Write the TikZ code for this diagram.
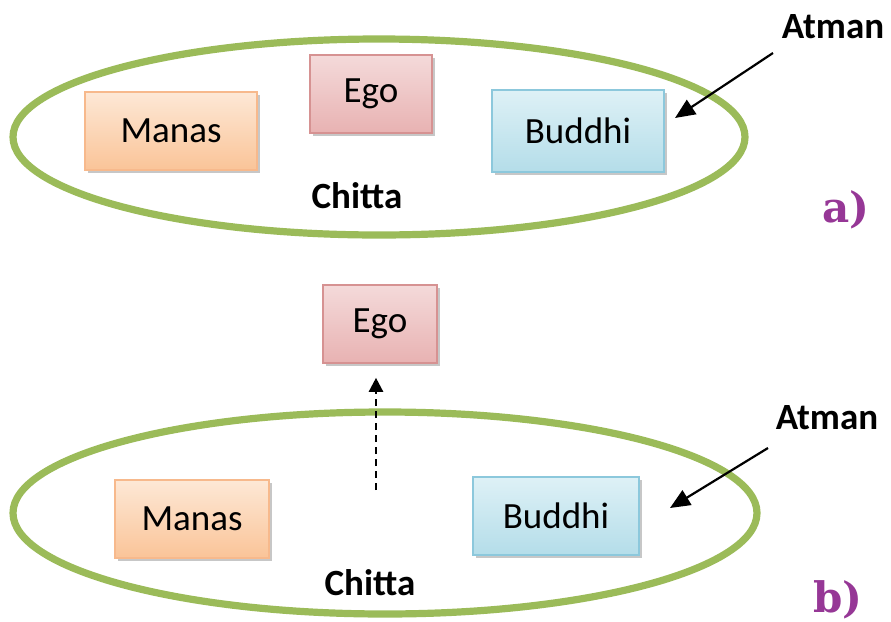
\documentclass[tikz,border=0pt]{standalone}
\usepackage{fontspec}
\setmainfont{Carlito}
\newfontfamily\partfont{DejaVu Serif}
\usetikzlibrary{arrows.meta,shadows}

\definecolor{chittagreen}{RGB}{155,187,89}
\definecolor{manastop}{RGB}{253,232,214}
\definecolor{manasbot}{RGB}{250,196,152}
\definecolor{manasline}{RGB}{247,185,140}
\definecolor{egotop}{RGB}{244,218,218}
\definecolor{egobot}{RGB}{232,178,178}
\definecolor{egoline}{RGB}{214,146,146}
\definecolor{buddhitop}{RGB}{222,241,246}
\definecolor{buddhibot}{RGB}{180,221,233}
\definecolor{buddhiline}{RGB}{140,200,220}
\definecolor{partpurple}{RGB}{150,55,150}
\newcommand*{\boxfont}{\fontsize{18.5}{22}\selectfont}

\begin{document}
\begin{tikzpicture}[x=0.5pt, y=-0.5pt,
    box/.style={draw, line width=0.8pt, minimum height=39pt, inner sep=0pt, font=\boxfont,
        drop shadow={shadow xshift=1.5pt, shadow yshift=-1.5pt, fill=black!40, opacity=0.55}},
    manasbox/.style={box, draw=manasline, top color=manastop, bottom color=manasbot},
    egobox/.style={box, draw=egoline, top color=egotop, bottom color=egobot},
    buddhibox/.style={box, draw=buddhiline, top color=buddhitop, bottom color=buddhibot},
    chitta/.style={draw=chittagreen, line width=3.6pt},
    tag/.style={font=\boxfont\bfseries},
    part/.style={font=\partfont\fontsize{21}{24}\selectfont\bfseries, text=partpurple},
    pointer/.style={line width=1.1pt, -{Triangle[length=10pt, width=8.5pt]}}
]
    \useasboundingbox (0,0) rectangle (891,622);
    % a) ego inside chitta
    \draw[chitta] (379,137) ellipse [x radius=366, y radius=98];
    \node[manasbox, minimum width=86pt] (manasA) at (171,131) {Manas};
    \node[egobox, minimum width=61pt] (egoA) at (371,94) {Ego};
    \node[buddhibox, minimum width=86pt, minimum height=41pt] (buddhiA) at (578,131) {Buddhi};
    \node[tag] (chittaA) at (357,196) {Chitta};
    \node[tag] (atmanA) at (833,27) {Atman};
    \node[part] (labelA) at (846,210) {a)};
    \coordinate (fromA) at (773,53);
    \coordinate (toA) at (675,118);
    \draw[pointer] (fromA) -- (toA);
    % b) ego pulled out of chitta
    \draw[chitta] (385,513) ellipse [x radius=372, y radius=101];
    \node[egobox, minimum width=57pt] (egoB) at (380,324) {Ego};
    \node[manasbox, minimum width=77pt] (manasB) at (192,519) {Manas};
    \node[buddhibox, minimum width=83pt] (buddhiB) at (556,516) {Buddhi};
    \node[tag] (chittaB) at (370,583) {Chitta};
    \node[tag] (atmanB) at (827,418) {Atman};
    \node[part] (labelB) at (838,600) {b)};
    \coordinate (fromB) at (768,448);
    \coordinate (toB) at (670,508);
    \draw[pointer] (fromB) -- (toB);
    \coordinate (rise) at (376,490);
    \draw[pointer, line width=1.2pt, dash pattern=on 3.5pt off 2.5pt, shorten >=7pt,
        -{Triangle[length=7pt, width=7pt]}] (rise) -- (rise |- egoB.south);
\end{tikzpicture}
\end{document}
